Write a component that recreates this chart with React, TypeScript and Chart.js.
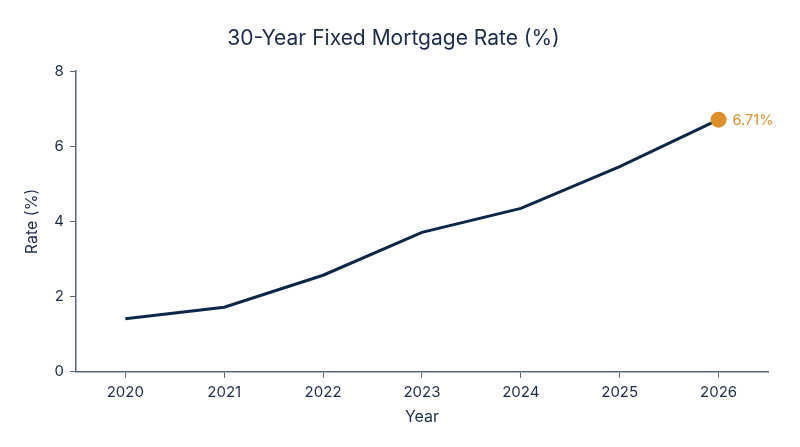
import React, { useEffect, useRef } from 'react';
import { Chart, registerables } from 'chart.js';

Chart.register(...registerables);

const years = ['2020', '2021', '2022', '2023', '2024', '2025', '2026'];
const rates = [1.41, 1.72, 2.57, 3.71, 4.35, 5.46, 6.71];
const yTicks = [0, 2, 4, 6, 8];

const navy = '#0c2749';
const orange = '#dc8f2b';
const axisColor = '#56677d';
const textColor = '#1b2c4b';
const fontFamily = 'Inter, "Noto Sans", sans-serif';

// writes the value next to the last point
const lastLabel = {
  id: 'lastLabel',
  afterDatasetsDraw(chart: Chart) {
    const meta = chart.getDatasetMeta(0);
    const i = rates.length - 1;
    const pt = meta.data[i];
    if (!pt) return;
    const ctx = chart.ctx;
    ctx.save();
    ctx.font = `14.5px ${fontFamily}`;
    ctx.fillStyle = orange;
    ctx.textAlign = 'left';
    ctx.textBaseline = 'middle';
    ctx.fillText(rates[i].toFixed(2) + '%', pt.x + 14, pt.y + 1);
    ctx.restore();
  },
};

export default function App() {
  const canvasRef = useRef<HTMLCanvasElement>(null);

  useEffect(() => {
    document.body.style.margin = '0';
    if (!canvasRef.current) return;
    const last = rates.length - 1;
    const chart = new Chart(canvasRef.current, {
      type: 'line',
      data: {
        labels: years,
        datasets: [
          {
            data: rates,
            borderColor: navy,
            borderWidth: 3,
            tension: 0,
            pointRadius: (c: any) => (c.dataIndex === last ? 8 : 0),
            pointHoverRadius: (c: any) => (c.dataIndex === last ? 8 : 0),
            pointBackgroundColor: orange,
            pointBorderColor: orange,
            pointBorderWidth: 0,
          },
        ],
      },
      options: {
        animation: false,
        responsive: false,
        layout: { padding: { left: 19, right: 32, top: 0, bottom: 16 } },
        plugins: {
          legend: { display: false },
          tooltip: { enabled: false },
          title: {
            display: true,
            text: '30-Year Fixed Mortgage Rate (%)',
            color: textColor,
            font: { family: fontFamily, size: 21, weight: 'normal' },
            padding: { top: 26, bottom: 20 },
          },
        },
        scales: {
          x: {
            offset: true,
            grid: {
              offset: false,
              drawOnChartArea: false,
              color: axisColor,
              tickLength: 6,
            },
            border: { color: axisColor, width: 1.5 },
            ticks: {
              color: textColor,
              font: { family: fontFamily, size: 15 },
              padding: 6,
            },
            title: {
              display: true,
              text: 'Year',
              color: textColor,
              font: { family: fontFamily, size: 16 },
              padding: { top: 0 },
            },
          },
          y: {
            min: 0,
            max: 8,
            afterBuildTicks: (scale: any) => {
              scale.ticks = yTicks.map((v) => ({ value: v }));
            },
            grid: {
              drawOnChartArea: false,
              color: axisColor,
              tickLength: 6,
            },
            border: { color: axisColor, width: 1.5 },
            ticks: {
              color: textColor,
              font: { family: fontFamily, size: 15 },
              padding: 6,
            },
            title: {
              display: true,
              text: 'Rate (%)',
              color: textColor,
              font: { family: fontFamily, size: 16 },
              padding: { bottom: 6 },
            },
          },
        },
      },
      plugins: [lastLabel],
    });
    return () => chart.destroy();
  }, []);

  return <canvas ref={canvasRef} width={800} height={447} style={{ display: 'block' }} />;
}
